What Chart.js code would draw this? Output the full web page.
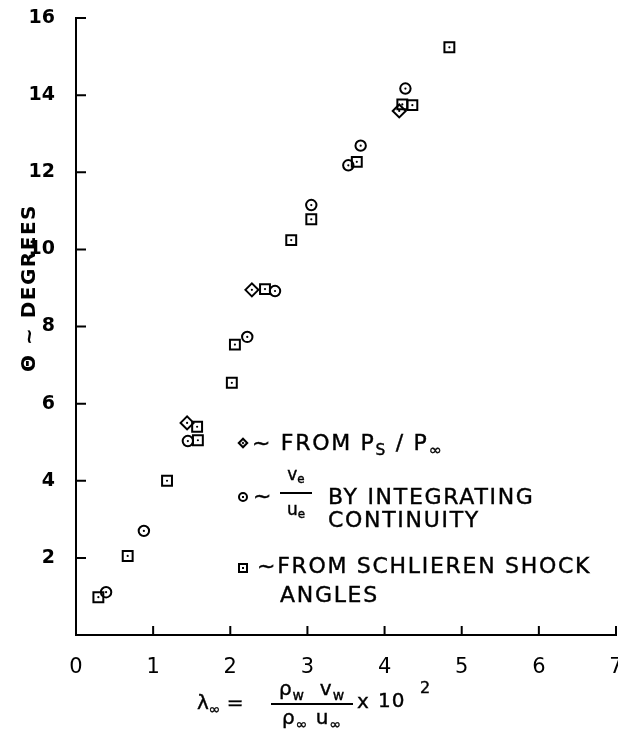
<!DOCTYPE html>
<html>
<head>
<meta charset="utf-8">
<script src="https://cdn.jsdelivr.net/npm/chart.js@4/dist/chart.umd.min.js"></script>
<style>
  body { margin: 0; background: #fff; overflow: hidden; }
  #wrap { position: relative; width: 618px; height: 732px; font-family: "DejaVu Sans", sans-serif; color: #000; overflow: hidden; }
  #c { position: absolute; left: 0; top: 0; }
  .t { position: absolute; white-space: nowrap; line-height: 1; -webkit-text-stroke: 0.4px #000; }
  .l { transform: translate(0, -50%); }
  .m { transform: translate(-50%, -50%); }
  .lg { font-size: 22px; letter-spacing: 1.7px; }
  .bar { position: absolute; height: 2px; background: #000; }
  .mk { position: absolute; box-sizing: border-box; border: 2px solid #000; width: 10px; height: 10px; transform: translate(-50%, -50%); }
  .mk::after { content: ""; position: absolute; left: 2px; top: 2px; width: 2px; height: 2px; background: #000; }
  .mk.c { border-radius: 50%; }
  .mk.d { transform: translate(-50%, -50%) rotate(45deg); width: 8px; height: 8px; }
  .mk.d::after { left: 1px; top: 1px; }
  sub { font-size: 70%; vertical-align: -0.3em; }
</style>
</head>
<body>
<div id="wrap">
  <canvas id="c" width="625" height="732"></canvas>

  <div class="t" style="left:28px; top:288px; transform: translate(-50%,-50%) rotate(-90deg); font-size:20px; font-weight:bold; letter-spacing:1.5px; -webkit-text-stroke:0;">Θ ~ DEGREES</div>

  <!-- legend -->
  <div class="mk d" style="left:243px; top:443px;"></div>
  <div class="t l lg" style="left:252px; top:445px;">~ FROM P<sub>S</sub> / P<sub>∞</sub></div>

  <div class="mk c" style="left:243px; top:497px;"></div>
  <div class="t l lg" style="left:253px; top:496px;">~</div>
  <div class="t m" style="left:296px; top:476px; font-size:17px;">v<sub>e</sub></div>
  <div class="bar" style="left:280px; top:492px; width:32px;"></div>
  <div class="t m" style="left:296px; top:511px; font-size:17px;">u<sub>e</sub></div>
  <div class="t l lg" style="left:328px; top:497px;">BY INTEGRATING</div>
  <div class="t l lg" style="left:328px; top:520px;">CONTINUITY</div>

  <div class="mk" style="left:243px; top:568px;"></div>
  <div class="t l lg" style="left:257px; top:566px;">~FROM SCHLIEREN SHOCK</div>
  <div class="t l lg" style="left:280px; top:595px;">ANGLES</div>

  <!-- x title -->
  <div class="t l" style="left:197px; top:704px; font-size:20px;">λ<sub>∞</sub> =</div>
  <div class="t m" style="left:312px; top:690px; font-size:20px; letter-spacing:1px;">ρ<sub>w</sub>&nbsp; v<sub>w</sub></div>
  <div class="bar" style="left:271px; top:703px; width:82px;"></div>
  <div class="t m" style="left:312px; top:719px; font-size:20px; letter-spacing:1px;">ρ<sub>∞</sub> u<sub>∞</sub></div>
  <div class="t l" style="left:357px; top:701px; font-size:20px;">x</div>
  <div class="t l" style="left:378px; top:700px; font-size:20px; letter-spacing:1px;">10</div>
  <div class="t l" style="left:420px; top:688px; font-size:16px;">2</div>
</div>

<script>
// schlieren shock angles (squares)
const squareX = [4.84, 4.23, 4.36, 3.64, 3.05, 2.79, 2.45, 2.06, 2.02, 1.57, 1.58, 1.18, 0.67, 0.29];
const squareY = [15.24, 13.76, 13.74, 12.27, 10.78, 10.24, 8.97, 7.53, 6.54, 5.40, 5.05, 4.00, 2.05, 0.98];
// ve/ue by integrating continuity (circles)
const circleX = [4.27, 3.69, 3.53, 3.05, 2.58, 2.22, 1.45, 0.88, 0.39];
const circleY = [14.17, 12.69, 12.18, 11.15, 8.92, 7.73, 5.03, 2.70, 1.11];
// from Ps/Pinf (diamonds)
const diamondX = [4.19, 2.28, 1.44];
const diamondY = [13.59, 8.95, 5.50];

const xMin = 0, xMax = 7, xStep = 1;
const yMin = 0, yMax = 16, yStep = 2;

function pts(xs, ys) {
  return xs.map((x, i) => ({ x: x, y: ys[i] }));
}

function marker(data, style, r) {
  return {
    data: data,
    pointStyle: style,
    pointRadius: r,
    pointBorderWidth: 2,
    pointBorderColor: "#000",
    pointBackgroundColor: "rgba(0,0,0,0)",
    order: 2,
  };
}
function dots(data) {
  return {
    data: data,
    pointStyle: "circle",
    pointRadius: 1.1,
    pointBorderWidth: 0,
    pointBackgroundColor: "#000",
    order: 1,
  };
}

// tick marks pointing into the plot
const innerTicks = {
  id: "innerTicks",
  afterDraw(chart) {
    const { ctx, chartArea, scales } = chart;
    ctx.save();
    ctx.strokeStyle = "#000";
    ctx.lineWidth = 2;
    ctx.beginPath();
    scales.x.ticks.forEach((t) => {
      if (t.value === xMin) return;
      const px = scales.x.getPixelForValue(t.value);
      ctx.moveTo(px, chartArea.bottom);
      ctx.lineTo(px, chartArea.bottom - 9);
    });
    scales.y.ticks.forEach((t) => {
      if (t.value === yMin) return;
      const py = scales.y.getPixelForValue(t.value);
      ctx.moveTo(chartArea.left, py);
      ctx.lineTo(chartArea.left + 10, py);
    });
    ctx.stroke();
    ctx.restore();
  },
};

const sq = pts(squareX, squareY);
const ci = pts(circleX, circleY);
const di = pts(diamondX, diamondY);

new Chart(document.getElementById("c").getContext("2d"), {
  type: "scatter",
  data: {
    datasets: [
      dots(sq), dots(ci), dots(di),
      marker(sq, "rect", 7),
      marker(ci, "circle", 5.2),
      marker(di, "rectRot", 6.5),
    ],
  },
  options: {
    responsive: false,
    animation: false,
    layout: { padding: { top: 18, right: 0, left: 0, bottom: 0 } },
    plugins: { legend: { display: false }, tooltip: { enabled: false } },
    scales: {
      x: {
        min: xMin,
        max: xMax,
        ticks: {
          stepSize: xStep,
          color: "#000",
          padding: 12,
          font: { family: "DejaVu Sans", size: 21 },
        },
        grid: { display: false },
        border: { display: true, color: "#000", width: 2 },
        afterFit: (s) => { s.height = 97; s.paddingLeft = 0; s.paddingRight = 0; },
      },
      y: {
        min: yMin,
        max: yMax,
        ticks: {
          stepSize: yStep,
          color: "#000",
          padding: 13,
          font: { family: "DejaVu Sans", size: 19, weight: "bold" },
          callback: (v) => (v === 0 ? "" : v),
        },
        grid: { display: false },
        border: { display: true, color: "#000", width: 2 },
        afterFit: (s) => { s.width = 76; s.paddingTop = 0; s.paddingBottom = 0; },
      },
    },
  },
  plugins: [innerTicks],
});
</script>
</body>
</html>
